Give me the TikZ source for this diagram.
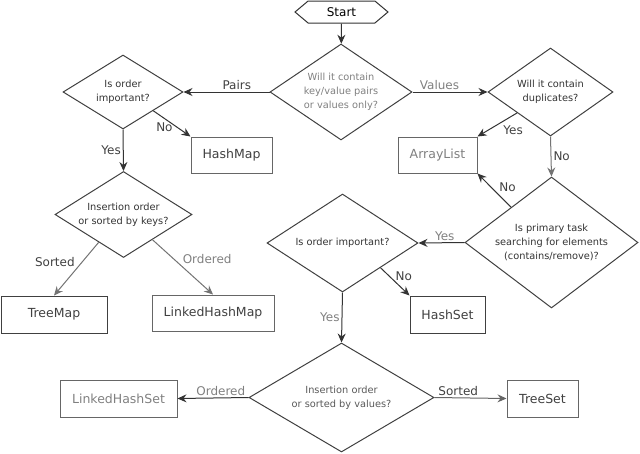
\documentclass[tikz,border=0pt]{standalone}
\usepackage{fontspec}
\setmainfont{DejaVu Sans}
\usetikzlibrary{shapes.geometric,shapes.symbols,arrows.meta,calc}

\begin{document}
\begin{tikzpicture}[x=1pt,y=-1pt,line width=1pt,
  dec/.style={diamond,draw=black!75,inner sep=0pt},
  dtxt/.style={font=\fontsize{9.8}{14}\selectfont,align=center,text=black!80},
  box/.style={rectangle,draw=black!75,inner sep=0pt,minimum height=36,font=\fontsize{12.5}{14}\selectfont,text=black!75},
  arr/.style={draw=black!80,-{Stealth[length=9pt,width=8pt,inset=3pt]}},
  lbl/.style={font=\fontsize{12}{14}\selectfont,text=black!75,inner sep=2pt},
  lt/.style={text=black!50}]
\useasboundingbox (0,0) rectangle (640,453);
\node[draw=black!80,signal,signal to=west and east,signal pointer angle=80,minimum width=93,minimum height=22,inner sep=0pt,font=\fontsize{12}{14}\selectfont] (start) at (341.5,12) {Start};
% questions
\node[dec,minimum width=142,minimum height=96,label={[dtxt,lt]center:{Will it contain\\key/value pairs\\or values only?}}] (q1) at (341,92) {};
\node[dec,minimum width=120,minimum height=74,label={[dtxt]center:{Is order\\important?}}] (q2) at (123,92) {};
\node[dec,minimum width=137,minimum height=86,label={[dtxt]center:{Insertion order\\or sorted by keys?}}] (q3) at (123.5,214.5) {};
\node[dec,minimum width=125,minimum height=88,label={[dtxt]center:{Will it contain\\duplicates?}}] (q4) at (550.5,92) {};
\node[dec,minimum width=173,minimum height=131,label={[dtxt]center:{Is primary task\\searching for elements\\(contains/remove)?}}] (q5) at (551.5,242.5) {};
\node[dec,minimum width=151,minimum height=98,label={[dtxt]center:{Is order important?}}] (q6) at (342.5,243) {};
\node[dec,minimum width=185,minimum height=109,label={[dtxt,text=black!65]center:{Insertion order\\or sorted by values?}}] (q7) at (341.5,397.5) {};
% answers
\node[box,minimum width=81,draw=black!60] (hmap) at (231.5,155) {HashMap};
\node[box,minimum width=106,minimum height=37] (tmap) at (54,314.5) {TreeMap};
\node[box,minimum width=122,draw=black!60] (lhmap) at (213,313) {LinkedHashMap};
\node[box,minimum width=79,draw=black!60,lt] (alist) at (437.5,155) {ArrayList};
\node[box,minimum width=75,minimum height=37] (hset) at (447.5,314.5) {HashSet};
\node[box,minimum width=117,minimum height=37,draw=black!60,lt] (lhset) at (118.5,398.5) {LinkedHashSet};
\node[box,minimum width=71,minimum height=37,draw=black!60] (tset) at (542.5,398.5) {TreeSet};

\draw[arr] (start) -- (q1);
\draw[arr] (q1.west) -- node[lbl,pos=.38,above] {Pairs} (q2.east);
\draw[arr] (q2.south east) -- node[lbl,pos=.3,below,yshift=-2] {No} (hmap.north west);
\draw[arr] (q2.south) -- node[lbl,left] {Yes} (q3.north);
\draw[arr,draw=black!55] ($(q3.south)!.36!(q3.west)$) -- node[lbl,pos=.37,left,xshift=-5] {Sorted} (tmap.north);
\draw[arr,draw=black!55] ($(q3.south)!.42!(q3.east)$) -- node[lbl,lt,pos=.36,right,xshift=6] {Ordered} (lhmap.north);
\draw[arr] (q1.east) -- node[lbl,lt,pos=.36,above] {Values} (q4.west);
\draw[arr] ($(q4.south)!.53!(q4.west)$) -- node[lbl,pos=.1,below,yshift=-8] {Yes} (alist.north east);
\draw[arr,draw=black!55] (q4.south) -- node[lbl,right] {No} (q5.north);
\draw[arr] ($(q5.north)!.465!(q5.west)$) -- node[lbl,pos=.6,right,xshift=6] {No} (alist.south east);
\draw[arr] (q5.west) -- node[lbl,lt,pos=.43,above] {Yes} (q6.east);
\draw[arr] (q6.south east) -- node[lbl,pos=.3,right,xshift=4] {No} (hset.north west);
\draw[arr] (q6.south) -- node[lbl,lt,left] {Yes} (q7.north);
\draw[arr] (q7.west) -- node[lbl,lt,pos=.39,above] {Ordered} (lhset.east);
\draw[arr,draw=black!60] (q7.east) -- node[lbl,pos=.33,above] {Sorted} (tset.west);
\end{tikzpicture}
\end{document}
